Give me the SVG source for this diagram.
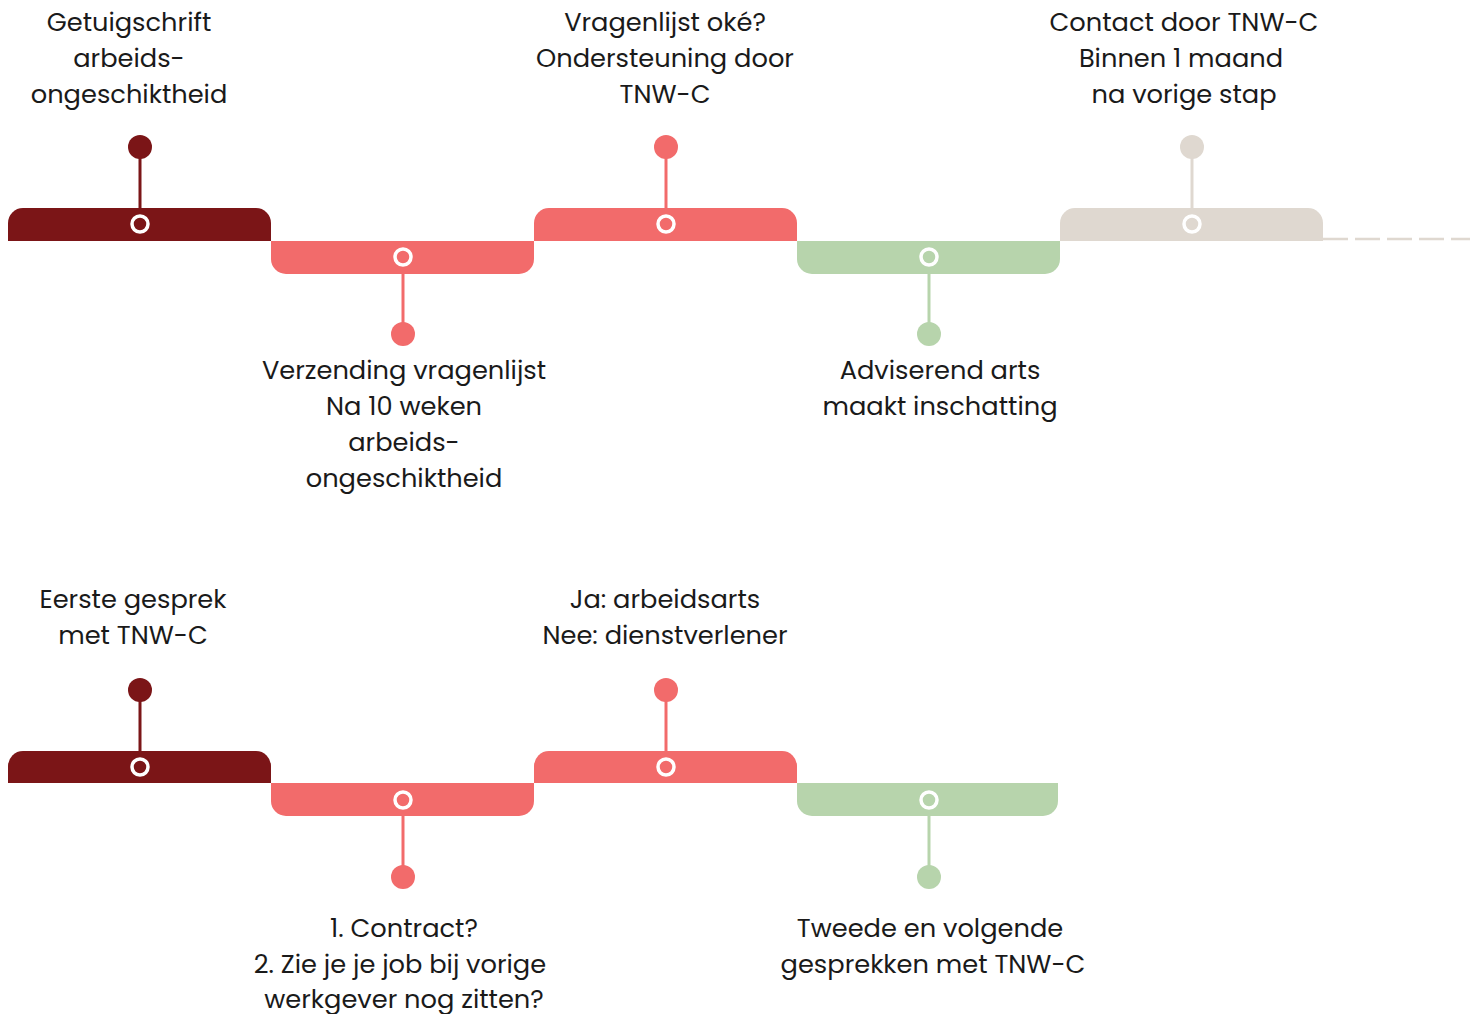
<svg xmlns="http://www.w3.org/2000/svg" width="1470" height="1014" viewBox="0 0 1470 1014">
<style>
.t{font-family:"Poppins","Inter","Liberation Sans",sans-serif;font-size:25.7px;fill:#1a1a1a;text-anchor:middle}
.ring{fill:none;stroke:#fff;stroke-width:3.5}
.dr{fill:#7B1517}.dr-s{stroke:#7B1517;stroke-width:3}
.co{fill:#F26B6B}.co-s{stroke:#F26B6B;stroke-width:3}
.gr{fill:#B7D4AC}.gr-s{stroke:#B7D4AC;stroke-width:3}
.be{fill:#DFD8D0}.be-s{stroke:#DFD8D0;stroke-width:3}
</style>
<rect width="1470" height="1014" fill="#fff"/>
<g id="connectors">
<line x1="1323" y1="239" x2="1470" y2="239" stroke="#DFD8D0" stroke-width="2.5" stroke-dasharray="25 7"/>
<line class="dr-s" x1="140" y1="147" x2="140" y2="209"/>
<line class="co-s" x1="403" y1="273" x2="403" y2="334"/>
<line class="co-s" x1="666" y1="147" x2="666" y2="209"/>
<line class="gr-s" x1="929" y1="273" x2="929" y2="334"/>
<line class="be-s" x1="1192" y1="147" x2="1192" y2="209"/>
<line class="dr-s" x1="140" y1="690" x2="140" y2="752"/>
<line class="co-s" x1="403" y1="815" x2="403" y2="877"/>
<line class="co-s" x1="666" y1="690" x2="666" y2="752"/>
<line class="gr-s" x1="929" y1="815" x2="929" y2="877"/>
</g>
<g id="n1"><path class="dr" d="M8,241V223A15,15 0 0 1 23,208H256A15,15 0 0 1 271,223V241Z"/><circle class="ring" cx="140" cy="224" r="8"/><circle class="dr" cx="140" cy="147" r="12"/>
<text class="t" x="129" y="31">Getuigschrift</text><text class="t" x="129" y="67">arbeids-</text><text class="t" x="129" y="103">ongeschiktheid</text></g>
<g id="n2"><path class="co" d="M271,241H534V259A15,15 0 0 1 519,274H286A15,15 0 0 1 271,259Z"/><circle class="ring" cx="403" cy="257" r="8"/><circle class="co" cx="403" cy="334" r="12"/>
<text class="t" x="404" y="379">Verzending vragenlijst</text><text class="t" x="404" y="415">Na 10 weken</text><text class="t" x="404" y="451">arbeids-</text><text class="t" x="404" y="487">ongeschiktheid</text></g>
<g id="n3"><path class="co" d="M534,241V223A15,15 0 0 1 549,208H782A15,15 0 0 1 797,223V241Z"/><circle class="ring" cx="666" cy="224" r="8"/><circle class="co" cx="666" cy="147" r="12"/>
<text class="t" x="665" y="31">Vragenlijst oké?</text><text class="t" x="665" y="67">Ondersteuning door</text><text class="t" x="665" y="103">TNW-C</text></g>
<g id="n4"><path class="gr" d="M797,241H1060V259A15,15 0 0 1 1045,274H812A15,15 0 0 1 797,259Z"/><circle class="ring" cx="929" cy="257" r="8"/><circle class="gr" cx="929" cy="334" r="12"/>
<text class="t" x="940" y="379">Adviserend arts</text><text class="t" x="940" y="415">maakt inschatting</text></g>
<g id="n5"><path class="be" d="M1060,241V223A15,15 0 0 1 1075,208H1308A15,15 0 0 1 1323,223V241Z"/><circle class="ring" cx="1192" cy="224" r="8"/><circle class="be" cx="1192" cy="147" r="12"/>
<text class="t" x="1184" y="31">Contact door TNW-C</text><text class="t" x="1181" y="67">Binnen 1 maand</text><text class="t" x="1184" y="103">na vorige stap</text></g>
<g id="n6"><path class="dr" d="M8,783V766A15,15 0 0 1 23,751H256A15,15 0 0 1 271,766V783Z"/><circle class="ring" cx="140" cy="767" r="8"/><circle class="dr" cx="140" cy="690" r="12"/>
<text class="t" x="133" y="608">Eerste gesprek</text><text class="t" x="133" y="644">met TNW-C</text></g>
<g id="n7"><path class="co" d="M271,783H534V801A15,15 0 0 1 519,816H286A15,15 0 0 1 271,801Z"/><circle class="ring" cx="403" cy="800" r="8"/><circle class="co" cx="403" cy="877" r="12"/>
<text class="t" x="404" y="937">1. Contract?</text><text class="t" x="400" y="973">2. Zie je je job bij vorige</text><text class="t" x="404" y="1008">werkgever nog zitten?</text></g>
<g id="n8"><path class="co" d="M534,783V766A15,15 0 0 1 549,751H782A15,15 0 0 1 797,766V783Z"/><circle class="ring" cx="666" cy="767" r="8"/><circle class="co" cx="666" cy="690" r="12"/>
<text class="t" x="665" y="608">Ja: arbeidsarts</text><text class="t" x="665" y="644">Nee: dienstverlener</text></g>
<g id="n9"><path class="gr" d="M797,783H1058V801A15,15 0 0 1 1043,816H812A15,15 0 0 1 797,801Z"/><circle class="ring" cx="929" cy="800" r="8"/><circle class="gr" cx="929" cy="877" r="12"/>
<text class="t" x="930" y="937">Tweede en volgende</text><text class="t" x="933" y="973">gesprekken met TNW-C</text></g>
</svg>
